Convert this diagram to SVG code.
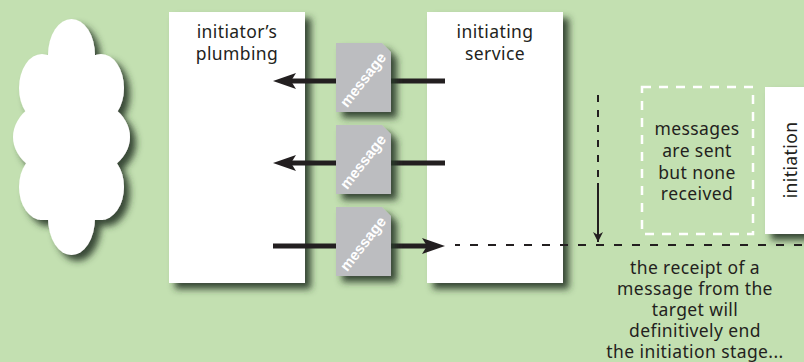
<svg xmlns="http://www.w3.org/2000/svg" width="804" height="362" viewBox="0 0 804 362">
  <defs>
    <filter id="shadow" x="-20%" y="-20%" width="150%" height="150%">
      <feDropShadow dx="6" dy="6" stdDeviation="3.5" flood-color="#2b3826" flood-opacity="0.9"/>
    </filter>
    <marker id="thinHead" viewBox="0 0 10 10" refX="10" refY="5" markerWidth="10" markerHeight="10" markerUnits="userSpaceOnUse" orient="auto">
      <path d="M0,0 L10,5 L0,10 L3,5 Z" fill="#231f20"/>
    </marker>
    <!-- message document with folded corner -->
    <path id="doc" d="M0,0 H46 L55,9 V69 H0 Z"/>
  </defs>
  <style>
    .label { font-family: "Noto Sans", "DejaVu Sans", sans-serif; font-size: 17.5px; letter-spacing: 0.4px; fill: #231f20; text-anchor: middle; }
    .box { fill: #ffffff; filter: url(#shadow); }
    .msg { fill: #bcbdc0; filter: url(#shadow); }
    .msgtxt { font-family: "Liberation Sans", Arial, sans-serif; font-weight: bold; font-size: 15px; fill: #ffffff; text-anchor: middle; }
    .thick { stroke: #231f20; stroke-width: 5; fill: none; }
    .head { fill: #231f20; }
  </style>

  <rect width="804" height="362" fill="#c3e0b1"/>

  <!-- cloud -->
  <g id="cloud" filter="url(#shadow)" fill="#ffffff">
    <ellipse cx="71.5" cy="55" rx="23.5" ry="36"/>
    <ellipse cx="42" cy="88" rx="23" ry="34"/>
    <ellipse cx="101" cy="88" rx="23" ry="34"/>
    <ellipse cx="71.5" cy="137" rx="58.5" ry="42"/>
    <ellipse cx="42" cy="187" rx="23" ry="33"/>
    <ellipse cx="101" cy="187" rx="23" ry="33"/>
    <ellipse cx="71.5" cy="218" rx="23.5" ry="37"/>
    <rect x="40" y="55" width="63" height="165"/>
  </g>

  <!-- initiator's plumbing -->
  <g id="plumbing">
    <rect class="box" x="169" y="12" width="136" height="271"/>
    <text class="label"><tspan x="237" y="38">initiator’s</tspan><tspan x="237" y="60">plumbing</tspan></text>
  </g>

  <!-- initiating service -->
  <g id="service">
    <rect class="box" x="427" y="12" width="136" height="271"/>
    <text class="label"><tspan x="495" y="38">initiating</tspan><tspan x="495" y="60">service</tspan></text>
  </g>

  <!-- initiation stage panel -->
  <g id="initiation">
    <rect class="box" x="765" y="87" width="60" height="147"/>
    <text class="label" transform="translate(797,160) rotate(-90)">initiation</text>
  </g>

  <!-- connectors -->
  <g id="connectors">
    <!-- outgoing messages -->
    <line class="thick" x1="445" y1="81" x2="290" y2="81"/>
    <path class="head" d="M273,81 L296,73 L291,81 L296,89 Z"/>
    <line class="thick" x1="445" y1="163" x2="290" y2="163"/>
    <path class="head" d="M273,163 L296,155 L291,163 L296,171 Z"/>
    <!-- incoming message -->
    <line class="thick" x1="273" y1="246" x2="428" y2="246"/>
    <path class="head" d="M445,246 L422,238 L427,246 L422,254 Z"/>
    <!-- end of initiation -->
    <line x1="455" y1="245" x2="804" y2="245" stroke="#231f20" stroke-width="2.2" stroke-dasharray="5 10 8 10 8 10 8 10 8 10 8 10 8 10 8 10 8 10 8 10 8 10 8 10 8 10 8 10 8 10 8 10 8 10 8 10 8 10 8 10"/>
    <line x1="598" y1="95" x2="598" y2="183" stroke="#231f20" stroke-width="2" stroke-dasharray="7 8"/>
    <line x1="598" y1="183" x2="598" y2="242" stroke="#231f20" stroke-width="2" marker-end="url(#thinHead)"/>
  </g>

  <!-- messages in transit -->
  <g id="message1">
    <use href="#doc" class="msg" x="336" y="43"/>
    <text class="msgtxt" transform="translate(367,83) rotate(-52)">message</text>
  </g>
  <g id="message2">
    <use href="#doc" class="msg" x="336" y="125"/>
    <text class="msgtxt" transform="translate(367,165) rotate(-52)">message</text>
  </g>
  <g id="message3">
    <use href="#doc" class="msg" x="336" y="207"/>
    <text class="msgtxt" transform="translate(367,247) rotate(-52)">message</text>
  </g>

  <!-- waiting period -->
  <g id="waiting">
    <rect x="642" y="87" width="111" height="147" fill="none" stroke="#ffffff" stroke-width="2.5" stroke-dasharray="9 8"/>
    <text class="label"><tspan x="697" y="135">messages</tspan><tspan x="697" y="157">are sent</tspan><tspan x="697" y="179">but none</tspan><tspan x="697" y="200">received</tspan></text>
  </g>

  <!-- note -->
  <g id="note">
    <text class="label"><tspan x="695" y="274">the receipt of a</tspan><tspan x="695" y="295">message from the</tspan><tspan x="695" y="316">target will</tspan><tspan x="695" y="337">definitively end</tspan><tspan x="695" y="358">the initiation stage...</tspan></text>
  </g>
</svg>
